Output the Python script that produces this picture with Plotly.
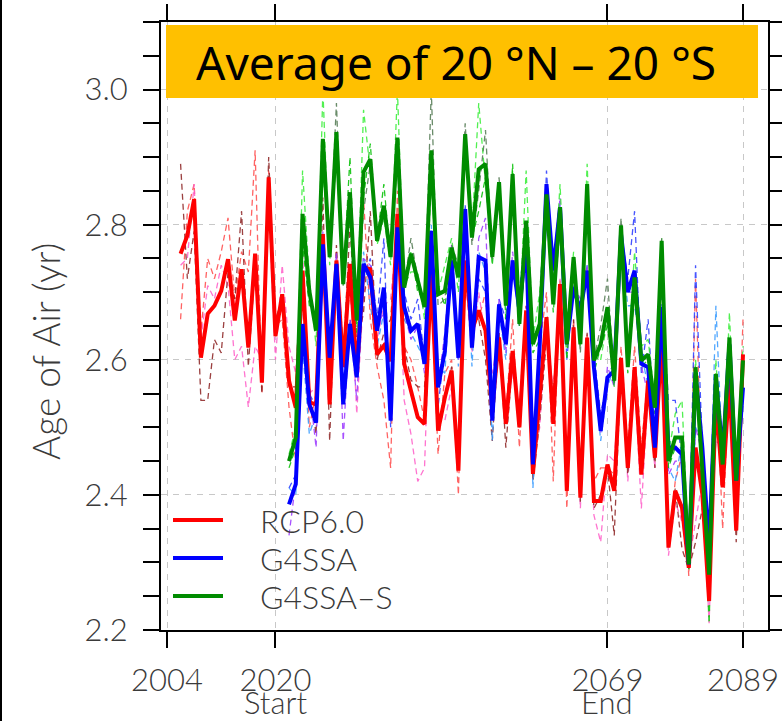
import plotly.graph_objects as go

# ---------------- data ----------------
rcp_years = list(range(2006, 2090))
geo_years = list(range(2022, 2090))

rcp_mean = [2.757, 2.784, 2.838, 2.603, 2.668, 2.680, 2.702, 2.749, 2.658, 2.734,
            2.618, 2.757, 2.566, 2.870, 2.635, 2.697, 2.569, 2.529, 2.732, 2.537,
            2.534, 2.786, 2.534, 2.747, 2.589, 2.742, 2.579, 2.737, 2.734, 2.608,
            2.621, 2.598, 2.816, 2.594, 2.554, 2.515, 2.505, 2.727, 2.495, 2.544,
            2.584, 2.436, 2.747, 2.643, 2.673, 2.643, 2.529, 2.633, 2.505, 2.613,
            2.500, 2.673, 2.431, 2.544, 2.663, 2.505, 2.712, 2.406, 2.648, 2.396,
            2.633, 2.391, 2.391, 2.445, 2.406, 2.603, 2.440, 2.589, 2.430, 2.569,
            2.455, 2.633, 2.322, 2.406, 2.381, 2.292, 2.470, 2.401, 2.243, 2.544,
            2.411, 2.569, 2.347, 2.608]

rcp_run1 = [2.66, 2.82, 2.86, 2.64, 2.75, 2.72, 2.76, 2.81, 2.69, 2.76,
            2.73, 2.91, 2.55, 2.88, 2.65, 2.66, 2.53, 2.45, 2.72, 2.50,
            2.55, 2.74, 2.55, 2.76, 2.62, 2.70, 2.60, 2.84, 2.66, 2.59,
            2.54, 2.44, 2.85, 2.62, 2.60, 2.56, 2.51, 2.70, 2.46, 2.58,
            2.60, 2.40, 2.78, 2.66, 2.66, 2.70, 2.53, 2.62, 2.52, 2.66,
            2.47, 2.66, 2.43, 2.62, 2.70, 2.42, 2.72, 2.38, 2.66, 2.42,
            2.64, 2.42, 2.44, 2.44, 2.43, 2.62, 2.47, 2.62, 2.47, 2.58,
            2.49, 2.63, 2.33, 2.42, 2.46, 2.28, 2.72, 2.40, 2.25, 2.58,
            2.35, 2.58, 2.36, 2.66]
rcp_run2 = [2.74, 2.75, 2.86, 2.63, 2.71, 2.69, 2.74, 2.71, 2.60, 2.62,
            2.53, 2.62, 2.60, 2.83, 2.60, 2.74, 2.62, 2.58, 2.76, 2.55,
            2.56, 2.78, 2.57, 2.71, 2.55, 2.73, 2.52, 2.70, 2.72, 2.63,
            2.68, 2.69, 2.80, 2.54, 2.49, 2.42, 2.44, 2.74, 2.52, 2.51,
            2.56, 2.47, 2.72, 2.61, 2.70, 2.63, 2.58, 2.64, 2.52, 2.58,
            2.53, 2.68, 2.44, 2.50, 2.66, 2.55, 2.72, 2.43, 2.62, 2.38,
            2.62, 2.37, 2.33, 2.46, 2.45, 2.60, 2.42, 2.57, 2.38, 2.55,
            2.44, 2.62, 2.31, 2.39, 2.36, 2.30, 2.36, 2.42, 2.21, 2.52,
            2.44, 2.56, 2.35, 2.57]
rcp_run3 = [2.89, 2.72, 2.79, 2.54, 2.54, 2.63, 2.61, 2.73, 2.69, 2.82,
            2.59, 2.74, 2.55, 2.90, 2.66, 2.69, 2.56, 2.56, 2.72, 2.56,
            2.49, 2.84, 2.48, 2.77, 2.60, 2.80, 2.62, 2.67, 2.82, 2.60,
            2.64, 2.66, 2.80, 2.62, 2.57, 2.56, 2.56, 2.74, 2.51, 2.54,
            2.59, 2.44, 2.74, 2.66, 2.66, 2.60, 2.48, 2.64, 2.47, 2.60,
            2.50, 2.68, 2.42, 2.51, 2.63, 2.55, 2.70, 2.41, 2.66, 2.39,
            2.64, 2.38, 2.40, 2.44, 2.34, 2.59, 2.43, 2.58, 2.44, 2.58,
            2.44, 2.65, 2.33, 2.41, 2.32, 2.29, 2.33, 2.38, 2.27, 2.53,
            2.44, 2.57, 2.33, 2.59]

g4ssa_mean = [2.386, 2.416, 2.653, 2.534, 2.507, 2.771, 2.603, 2.742, 2.534, 2.653,
              2.574, 2.742, 2.722, 2.643, 2.707, 2.510, 2.796, 2.678, 2.643, 2.653,
              2.594, 2.791, 2.559, 2.613, 2.747, 2.603, 2.823, 2.618, 2.752, 2.747,
              2.510, 2.682, 2.623, 2.747, 2.673, 2.776, 2.445, 2.623, 2.860, 2.732,
              2.826, 2.623, 2.707, 2.673, 2.732, 2.589, 2.495, 2.574, 2.584, 2.786,
              2.700, 2.732, 2.594, 2.589, 2.470, 2.678, 2.470, 2.470, 2.460, 2.297,
              2.579, 2.470, 2.322, 2.574, 2.460, 2.623, 2.421, 2.559]
g4ssa_run1 = [2.41, 2.43, 2.70, 2.55, 2.53, 2.78, 2.62, 2.73, 2.56, 2.66,
              2.60, 2.72, 2.75, 2.66, 2.78, 2.50, 2.80, 2.70, 2.66, 2.69,
              2.60, 2.78, 2.53, 2.62, 2.73, 2.62, 2.83, 2.64, 2.72, 2.70,
              2.53, 2.69, 2.66, 2.73, 2.70, 2.80, 2.46, 2.62, 2.88, 2.72,
              2.83, 2.60, 2.71, 2.66, 2.74, 2.61, 2.52, 2.57, 2.60, 2.79,
              2.72, 2.82, 2.58, 2.66, 2.49, 2.70, 2.54, 2.54, 2.45, 2.30,
              2.74, 2.47, 2.32, 2.56, 2.46, 2.63, 2.42, 2.56]
g4ssa_run2 = [2.41, 2.40, 2.62, 2.49, 2.52, 2.74, 2.58, 2.74, 2.56, 2.64,
              2.58, 2.76, 2.68, 2.62, 2.67, 2.52, 2.78, 2.66, 2.64, 2.62,
              2.60, 2.80, 2.59, 2.58, 2.74, 2.59, 2.82, 2.59, 2.76, 2.73,
              2.48, 2.67, 2.60, 2.75, 2.65, 2.77, 2.41, 2.64, 2.85, 2.74,
              2.81, 2.65, 2.70, 2.67, 2.72, 2.58, 2.48, 2.56, 2.59, 2.77,
              2.68, 2.68, 2.61, 2.56, 2.46, 2.67, 2.44, 2.42, 2.48, 2.29,
              2.50, 2.48, 2.33, 2.68, 2.45, 2.62, 2.43, 2.57]
g4ssa_run3 = [2.34, 2.42, 2.64, 2.56, 2.47, 2.79, 2.61, 2.76, 2.48, 2.66,
              2.54, 2.75, 2.74, 2.65, 2.67, 2.51, 2.81, 2.67, 2.63, 2.65,
              2.58, 2.79, 2.56, 2.64, 2.77, 2.60, 2.82, 2.62, 2.78, 2.81,
              2.52, 2.69, 2.61, 2.76, 2.67, 2.76, 2.47, 2.61, 2.85, 2.74,
              2.84, 2.62, 2.71, 2.69, 2.74, 2.58, 2.49, 2.59, 2.56, 2.80,
              2.70, 2.70, 2.59, 2.55, 2.46, 2.66, 2.43, 2.45, 2.45, 2.30,
              2.50, 2.46, 2.32, 2.48, 2.47, 2.62, 2.41, 2.55]

g4ssas_mean = [2.450, 2.485, 2.816, 2.702, 2.643, 2.927, 2.752, 2.937, 2.712, 2.848,
               2.658, 2.878, 2.897, 2.776, 2.828, 2.752, 2.929, 2.707, 2.757, 2.717,
               2.678, 2.910, 2.697, 2.702, 2.766, 2.722, 2.934, 2.781, 2.882, 2.890,
               2.752, 2.863, 2.680, 2.875, 2.653, 2.806, 2.623, 2.653, 2.845, 2.682,
               2.826, 2.623, 2.752, 2.623, 2.860, 2.599, 2.623, 2.678, 2.569, 2.799,
               2.589, 2.722, 2.599, 2.608, 2.529, 2.776, 2.450, 2.485, 2.485, 2.297,
               2.589, 2.436, 2.282, 2.579, 2.445, 2.633, 2.421, 2.599]
g4ssas_run1 = [2.46, 2.50, 2.88, 2.72, 2.62, 3.00, 2.74, 2.93, 2.71, 2.82,
               2.66, 2.97, 2.88, 2.77, 2.81, 2.74, 3.00, 2.71, 2.73, 2.73,
               2.66, 2.86, 2.70, 2.74, 2.78, 2.70, 2.92, 2.79, 2.98, 2.86,
               2.77, 2.86, 2.68, 2.88, 2.66, 2.88, 2.63, 2.70, 2.85, 2.69,
               2.86, 2.64, 2.76, 2.62, 2.89, 2.62, 2.60, 2.66, 2.58, 2.80,
               2.60, 2.76, 2.62, 2.63, 2.54, 2.78, 2.46, 2.52, 2.54, 2.31,
               2.60, 2.45, 2.29, 2.60, 2.43, 2.67, 2.42, 2.62]
g4ssas_run2 = [2.44, 2.47, 2.77, 2.68, 2.66, 2.88, 2.76, 2.90, 2.72, 2.90,
               2.64, 2.84, 2.92, 2.78, 2.86, 2.75, 2.90, 2.70, 2.76, 2.70,
               2.69, 2.87, 2.71, 2.68, 2.75, 2.73, 2.93, 2.78, 2.82, 2.87,
               2.74, 2.86, 2.66, 2.89, 2.65, 2.77, 2.61, 2.63, 2.84, 2.67,
               2.80, 2.60, 2.75, 2.64, 2.84, 2.58, 2.62, 2.65, 2.56, 2.79,
               2.58, 2.70, 2.59, 2.60, 2.52, 2.77, 2.44, 2.47, 2.46, 2.29,
               2.58, 2.43, 2.21, 2.57, 2.46, 2.62, 2.43, 2.59]
g4ssas_run3 = [2.45, 2.49, 2.80, 2.70, 2.65, 2.90, 2.76, 2.98, 2.71, 2.82,
               2.67, 2.82, 2.89, 2.78, 2.81, 2.77, 2.89, 2.71, 2.78, 2.72,
               2.68, 3.00, 2.68, 2.69, 2.77, 2.74, 2.95, 2.77, 2.85, 2.94,
               2.75, 2.87, 2.70, 2.86, 2.65, 2.77, 2.63, 2.63, 2.85, 2.69,
               2.82, 2.63, 2.75, 2.61, 2.85, 2.60, 2.65, 2.72, 2.57, 2.81,
               2.59, 2.71, 2.59, 2.59, 2.53, 2.78, 2.45, 2.47, 2.46, 2.29,
               2.59, 2.43, 2.34, 2.57, 2.45, 2.61, 2.41, 2.59]

x_tick_vals = [2004, 2020, 2069, 2089]
x_tick_text = ["2004", "2020", "2069", "2089"]
period_marks = [(2020, "Start"), (2069, "End")]
series_names = ["RCP6.0", "G4SSA", "G4SSA\u2013S"]
series_colors = ["#FF0000", "#0000FF", "#008C00"]
title_text = "Average of 20 \u00b0N \u2013 20 \u00b0S"
y_title = "Age of Air (yr)"

# ---------------- figure ----------------
W, H = 782, 721
L, R, T, B = 161, 14, 22, 91
PW, PH = W - L - R, H - T - B


def px_x(px):
    return (px - L) / PW


def px_y(py):
    return (H - B - py) / PH


TICKFONT = dict(family="Lato", size=31, color="#3a3a3a", weight=300)
LEGFONT = dict(family="Lato", size=32, color="#3a3a3a", weight=300)
TITLEFONT = dict(family="Lato", size=37, color="#3a3a3a", weight=300)

fig = go.Figure()

members = [
    (rcp_years, rcp_run1, "#FF4848"),
    (rcp_years, rcp_run2, "#FF5CC8"),
    (rcp_years, rcp_run3, "#8B2020"),
    (geo_years, g4ssa_run1, "#2838FF"),
    (geo_years, g4ssa_run2, "#3399FF"),
    (geo_years, g4ssa_run3, "#9933FF"),
    (geo_years, g4ssas_run1, "#33EE33"),
    (geo_years, g4ssas_run2, "#00C000"),
    (geo_years, g4ssas_run3, "#507850"),
]
for xs, ys, col in members:
    fig.add_trace(go.Scatter(x=xs, y=ys, mode="lines", showlegend=False,
                             line=dict(color=col, width=1.3, dash="6px,4px"),
                             opacity=0.85, hoverinfo="skip"))

for xs, ys, col, name in [(rcp_years, rcp_mean, series_colors[0], series_names[0]),
                          (geo_years, g4ssa_mean, series_colors[1], series_names[1]),
                          (geo_years, g4ssas_mean, series_colors[2], series_names[2])]:
    fig.add_trace(go.Scatter(x=xs, y=ys, mode="lines", name=name, showlegend=False,
                             line=dict(color=col, width=4)))

shapes = []
annotations = []

# title banner
shapes.append(dict(type="rect", xref="paper", yref="paper",
                   x0=px_x(166), x1=px_x(758), y0=px_y(98), y1=px_y(25),
                   fillcolor="#FFC000", line=dict(width=0), layer="above"))
annotations.append(dict(text=title_text, xref="paper", yref="paper",
                        x=px_x(456), y=px_y(62), showarrow=False,
                        xanchor="center", yanchor="middle",
                        font=dict(family="Noto Sans", size=46, color="#000000")))

# legend block
for i, (name, col) in enumerate(zip(series_names, series_colors)):
    yy = px_y(520 + 38 * i)
    shapes.append(dict(type="line", xref="paper", yref="paper",
                       x0=px_x(173), x1=px_x(223), y0=yy, y1=yy,
                       line=dict(color=col, width=4), layer="above"))
    annotations.append(dict(text=name, xref="paper", yref="paper",
                            x=px_x(258), y=yy, showarrow=False,
                            xanchor="left", yanchor="middle", font=LEGFONT))

# period labels under the year ticks
for yr, lab in period_marks:
    annotations.append(dict(text=lab, xref="x", yref="paper", x=yr, y=px_y(722),
                            showarrow=False, xanchor="center", yanchor="bottom",
                            borderpad=0, font=TICKFONT))

# y-axis title
annotations.append(dict(text=y_title, xref="paper", yref="paper",
                        x=px_x(45), y=px_y(352), textangle=-90, showarrow=False,
                        xanchor="center", yanchor="middle", font=TITLEFONT))

# frame line at the left edge of the page
shapes.append(dict(type="line", xref="paper", yref="paper",
                   x0=px_x(1), x1=px_x(1), y0=px_y(0), y1=px_y(H),
                   line=dict(color="#000000", width=2)))

fig.update_layout(
    width=W, height=H, autosize=False,
    margin=dict(l=L, r=R, t=T, b=B, pad=0),
    paper_bgcolor="white", plot_bgcolor="white",
    shapes=shapes, annotations=annotations,
    showlegend=False,
    xaxis=dict(range=[2003.11, 2092.69], tickmode="array", automargin=False,
               tickvals=x_tick_vals, ticktext=x_tick_text,
               ticks="outside", ticklen=16, tickwidth=2, tickcolor="black",
               showline=True, linecolor="black", linewidth=2, mirror="allticks",
               showgrid=True, gridcolor="#C8C8C8", gridwidth=1, griddash="6px,6px",
               zeroline=False, tickfont=TICKFONT, ticklabelstandoff=6),
    yaxis=dict(range=[2.2, 3.1], tickmode="array", automargin=False,
               tickvals=[2.2, 2.4, 2.6, 2.8, 3.0],
               ticktext=["2.2", "2.4", "2.6", "2.8", "3.0"],
               ticks="outside", ticklen=16, tickwidth=2, tickcolor="black",
               minor=dict(dtick=0.05, ticks="outside", ticklen=16, tickwidth=2,
                          tickcolor="black", showgrid=False),
               showline=True, linecolor="black", linewidth=2, mirror="allticks",
               showgrid=True, gridcolor="#C8C8C8", gridwidth=1, griddash="6px,6px",
               zeroline=False, tickfont=TICKFONT, ticklabelstandoff=9),
)

fig.write_html("out.html")
